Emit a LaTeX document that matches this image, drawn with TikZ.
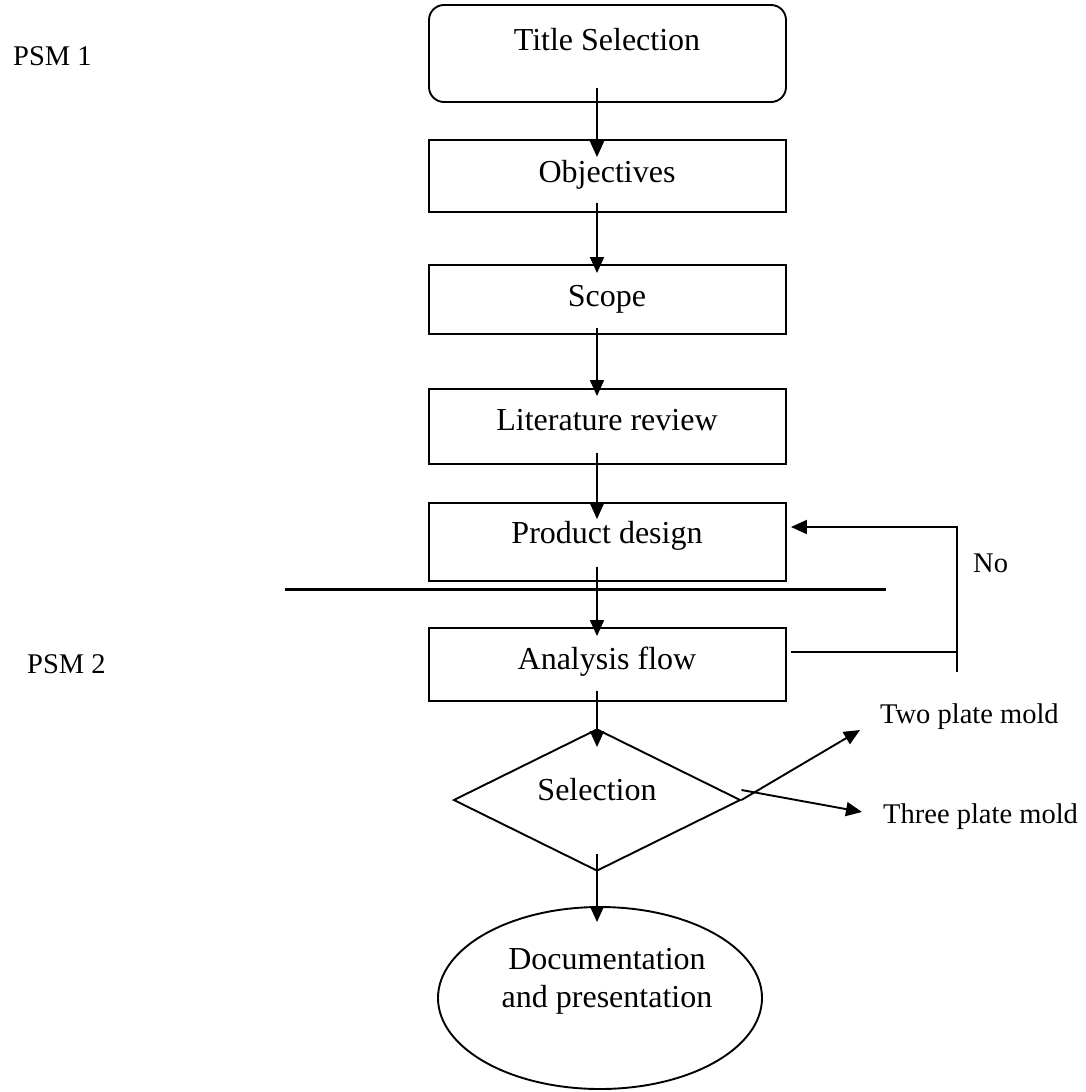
\documentclass[tikz,border=0pt]{standalone}
\usepackage{fontspec}
\setmainfont{Liberation Serif}
\usetikzlibrary{arrows.meta,shapes.geometric,calc}
\begin{document}
\begin{tikzpicture}[x=1pt,y=-1pt,
  txt/.style={font=\fontsize{32}{38}\selectfont, inner sep=0pt, anchor=base},
  side/.style={font=\fontsize{28.5}{34}\selectfont, inner sep=0pt, anchor=base west},
  stepbox/.style={draw, line width=1.9pt, inner sep=0pt, minimum width=357pt},
  arr/.style={line width=1.9pt, -{Triangle[length=16pt,width=14pt]}},
  ln/.style={line width=1.9pt}]
\useasboundingbox (0,0) rectangle (1086,1092);

% column of process boxes
\node[stepbox, rounded corners=15pt, minimum height=97pt] (title) at (607.5,53.5) {};
\node[stepbox, minimum height=72pt] (obj)   at (607.5,176) {};
\node[stepbox, minimum height=69pt] (scope) at (607.5,299.5) {};
\node[stepbox, minimum height=75pt] (lit)   at (607.5,426.5) {};
\node[stepbox, minimum height=78pt] (prod)  at (607.5,542) {};
\node[stepbox, minimum height=73pt] (ana)   at (607.5,664.5) {};
\node[diamond, draw, line width=1.9pt, inner sep=0pt,
      minimum width=287pt, minimum height=142pt] (sel) at (597,800) {};
\node[ellipse, draw, line width=1.9pt, inner sep=0pt,
      minimum width=324pt, minimum height=182pt] (doc) at (600,998) {};

% box texts
\node[txt] (tTitle) at (607,50)  {Title Selection};
\node[txt] (tObj)   at (607,182) {Objectives};
\node[txt] (tScope) at (607,306) {Scope};
\node[txt] (tLit)   at (607,430) {Literature review};
\node[txt] (tProd)  at (607,543) {Product design};
\node[txt] (tAna)   at (607,669) {Analysis flow};
\node[txt] (tSel)   at (597,800) {Selection};
\node[txt, anchor=center, align=center] (tDoc) at (607,981) {Documentation\\and presentation};

% side labels
\node[side] (psm1) at (13,65)  {PSM 1};
\node[side] (psm2) at (27,673) {PSM 2};
\node[side] (no)   at (973,572) {No};
\node[side] (two)   at (880,723) {Two plate mold};
\node[side] (three) at (883,823) {Three plate mold};

% helper coordinates
\coordinate (axis) at (597,0);
\coordinate (sepL) at (285,589.5);
\coordinate (sepR) at (886,589.5);
\coordinate (fbA) at (957,652);
\coordinate (fbB) at (957,672);
\coordinate (fbC) at (957,527);
\coordinate (tipTwo) at (860,730);
\coordinate (tipThree) at (862,812);

% PSM 1 / PSM 2 divider
\draw[line width=2.6pt] (sepL) -- (sepR);

% main flow
\draw[arr] ($(title.south -| axis)+(0,-15)$) -- ($(obj.north -| axis)+(0,18)$);
\draw[arr] ($(obj.south -| axis)+(0,-10)$)   -- ($(scope.north -| axis)+(0,9)$);
\draw[arr] ($(scope.south -| axis)+(0,-7)$)  -- ($(lit.north -| axis)+(0,8)$);
\draw[arr] ($(lit.south -| axis)+(0,-12)$)   -- ($(prod.north -| axis)+(0,17)$);
\draw[arr] ($(prod.south -| axis)+(0,-15)$)  -- ($(ana.north -| axis)+(0,9)$);
\draw[arr] ($(ana.south -| axis)+(0,-11)$)   -- ($(sel.north)+(0,19)$);
\draw[arr] ($(sel.south)+(0,-18)$)           -- ($(doc.north -| axis)+(0,16)$);

% feedback loop
\draw[ln] ($(ana.east)+(4,-12.5)$) -- (fbA);
\draw[arr] (fbB) -- (fbC) -- ($(prod.east)+(4,-15)$);

% selection outcomes
\draw[arr] (sel.east) -- (tipTwo);
\draw[arr] ($(sel.east)+(0,-10)$) -- (tipThree);
\end{tikzpicture}
\end{document}
